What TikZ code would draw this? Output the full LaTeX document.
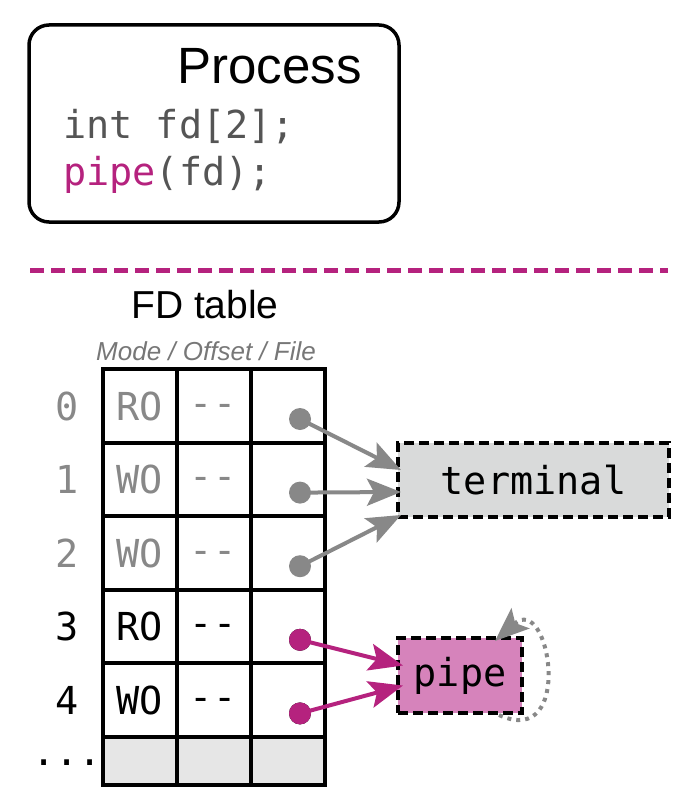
\documentclass[tikz,border=0pt]{standalone}
\usepackage{fontspec}
\setmainfont{Liberation Sans}
\setmonofont{DejaVu Sans Mono}
\usetikzlibrary{arrows.meta,calc}
\definecolor{fdgray}{HTML}{888888}
\definecolor{codegray}{HTML}{555555}
\definecolor{pipemag}{HTML}{B5227E}
\definecolor{pipefill}{HTML}{D683BB}
\definecolor{termfill}{HTML}{D9DADA}
\definecolor{cellfill}{HTML}{E6E6E6}
\tikzset{
	code/.style={font=\ttfamily\fontsize{38.5}{42}\selectfont},
	procbox/.style={draw,line width=3.5pt,rounded corners=20pt,minimum width=370pt,minimum height=197pt},
	filebox/.style={draw,line width=4pt,dash pattern=on 10pt off 5pt,inner sep=0pt,code},
	dot/.style={circle,inner sep=0pt,minimum size=22pt},
	bigtip/.style={-{Stealth[length=34pt,width=27pt,inset=7pt]}},
	grayarrow/.style={draw=fdgray,line width=4pt,bigtip},
	magarrow/.style={draw=pipemag,line width=4pt,bigtip}
}
\begin{document}
\begin{tikzpicture}[x=1pt,y=-1pt]
	\useasboundingbox (0,0) rectangle (700,792);
	% process
	\node[procbox] (proc) at (214,123.5) {};
	\node[anchor=base east,inner sep=0pt,font=\fontsize{51}{56}\selectfont] (title) at (362,83) {Process};
	\node[anchor=base west,inner sep=0pt,code,text=codegray] (line1) at (63,138) {int fd[2];};
	\node[anchor=base west,inner sep=0pt,code,text=codegray] (line2) at (63,185) {{\color{pipemag}pipe}(fd);};
	\draw[pipemag,line width=5pt,dash pattern=on 14pt off 7pt] (30,270) -- (668,270);
	% fd table
	\node[anchor=base,inner sep=0pt,font=\fontsize{39}{44}\selectfont] (fdtitle) at (205,318) {FD table};
	\node[anchor=base,inner sep=0pt,text=codegray!80,font=\itshape\fontsize{26}{30}\selectfont] (cols) at (206,360) {Mode / Offset / File};
	\fill[cellfill] (103,737) rectangle (325,785);
	\foreach \i/\m/\c in {0/RO/fdgray,1/WO/fdgray,2/WO/fdgray,3/RO/black,4/WO/black}{
		\pgfmathsetmacro\y{369+73.6*\i}
		\node[anchor=base,inner sep=0pt,code,text=\c] (n\i) at (67,\y+51) {\i};
		\node[anchor=base,inner sep=0pt,code,text=\c] (m\i) at (140,\y+51) {\m};
		\node[anchor=base,inner sep=0pt,code,text=\c] (o\i) at (213,\y+47) {-{}-};
		\node[dot,fill=\c] (d\i) at (300,\y+50) {};
	}
	\fill[pipemag] (d3) circle (11pt);
	\fill[pipemag] (d4) circle (11pt);
	\node[anchor=base,inner sep=0pt,code] (more) at (67,765) {...};
	\draw[line width=4pt] (103,369) rectangle (325,785);
	\draw[line width=4pt] (177,369) -- (177,785);
	\draw[line width=4pt] (251,369) -- (251,785);
	\foreach \i in {1,...,5}{
		\draw[line width=4pt] (103,369+73.6*\i) -- (325,369+73.6*\i);
	}
	% files
	\node[filebox,fill=termfill,minimum width=271pt,minimum height=74pt] (terminal) at (533.5,480) {terminal};
	\node[filebox,fill=pipefill,minimum width=124pt,minimum height=75pt] (pipe) at (460,675.5) {pipe};
	\draw[grayarrow] (d0.center) -- ($(terminal.west)+(5,-10)$);
	\draw[grayarrow] (d1.center) -- ($(terminal.west)+(5,12)$);
	\draw[grayarrow] (d2.center) -- ($(terminal.west)+(5,35)$);
	\draw[magarrow] (d3.center) -- ($(pipe.west)+(7,-10)$);
	\draw[magarrow] (d4.center) -- ($(pipe.west)+(7,10)$);
	\draw[draw=fdgray,line width=4pt,dash pattern=on 4pt off 5pt,bigtip]
		($(pipe.south east)+(-25,0)$) .. controls (575,750) and (550,592) .. ($(pipe.north east)+(-29,5)$);
\end{tikzpicture}
\end{document}
